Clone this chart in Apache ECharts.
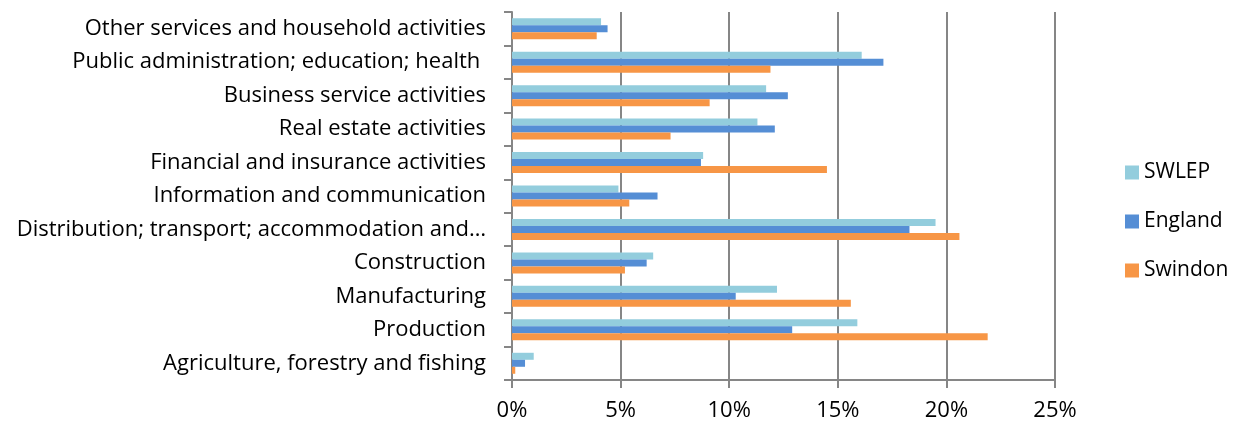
<!DOCTYPE html>
<html>
<head>
<meta charset="utf-8">
<script src="https://cdn.jsdelivr.net/npm/echarts@6/dist/echarts.min.js"></script>
<style>
  html, body { margin: 0; padding: 0; background: #fff; }
  #chart { width: 1242px; height: 426px; }
</style>
</head>
<body>
<div id="chart"></div>
<script>
// Industry sectors, listed bottom to top along the category axis
const categories = [
  'Agriculture, forestry and fishing',
  'Production',
  'Manufacturing',
  'Construction',
  'Distribution; transport; accommodation and…',
  'Information and communication',
  'Financial and insurance activities',
  'Real estate activities',
  'Business service activities',
  'Public administration; education; health ',
  'Other services and household activities'
];

// Share of employment by sector (%)
const swlep   = [1.0, 15.9, 12.2, 6.5, 19.5, 4.9, 8.8, 11.3, 11.7, 16.1, 4.1];
const england = [0.6, 12.9, 10.3, 6.2, 18.3, 6.7, 8.7, 12.1, 12.7, 17.1, 4.4];
const swindon = [0.15, 21.9, 15.6, 5.2, 20.6, 5.4, 14.5, 7.3, 9.1, 11.9, 3.9];

const xTicks = [0, 5, 10, 15, 20, 25];

const FONT = '"Open Sans", Lato, sans-serif';
const AXIS_GREY = '#868686';

function barSeries(name, data, color) {
  return {
    name: name,
    type: 'bar',
    data: data,
    barWidth: 7,
    barGap: '0%',
    itemStyle: { color: color },
    emphasis: { disabled: true }
  };
}

const chart = echarts.init(document.getElementById('chart'), null, { renderer: 'canvas' });
chart.setOption({
  animation: false,
  backgroundColor: '#ffffff',
  grid: { left: 512, right: 187, top: 12, bottom: 46, containLabel: false },
  legend: {
    orient: 'vertical',
    left: 1120,
    top: 157,
    itemWidth: 14,
    itemHeight: 14,
    itemGap: 28,
    icon: 'rect',
    textStyle: { fontFamily: FONT, fontSize: 21, lineHeight: 20, color: '#000' },
    data: ['SWLEP', 'England', 'Swindon']
  },
  xAxis: {
    type: 'value',
    min: 0,
    max: 25,
    interval: 5,
    axisLine: { show: true, lineStyle: { color: AXIS_GREY, width: 2 } },
    axisTick: { show: true, length: 8, inside: false, lineStyle: { color: AXIS_GREY, width: 2 } },
    splitLine: { show: true, lineStyle: { color: AXIS_GREY, width: 2 } },
    axisLabel: {
      fontFamily: FONT,
      fontSize: 22,
      color: '#000',
      margin: 20,
      formatter: v => (xTicks.includes(v) ? v + '%' : '')
    }
  },
  yAxis: {
    type: 'category',
    data: categories,
    axisLine: { show: true, lineStyle: { color: AXIS_GREY, width: 2 } },
    axisTick: { show: true, length: 8, inside: false, lineStyle: { color: AXIS_GREY, width: 2 } },
    splitLine: { show: false },
    axisLabel: {
      fontFamily: FONT,
      fontSize: 22,
      color: '#000',
      margin: 26
    }
  },
  series: [
    barSeries('SWLEP', swlep, '#93CDDD'),
    barSeries('England', england, '#558ED5'),
    barSeries('Swindon', swindon, '#F79646')
  ]
});
</script>
</body>
</html>
